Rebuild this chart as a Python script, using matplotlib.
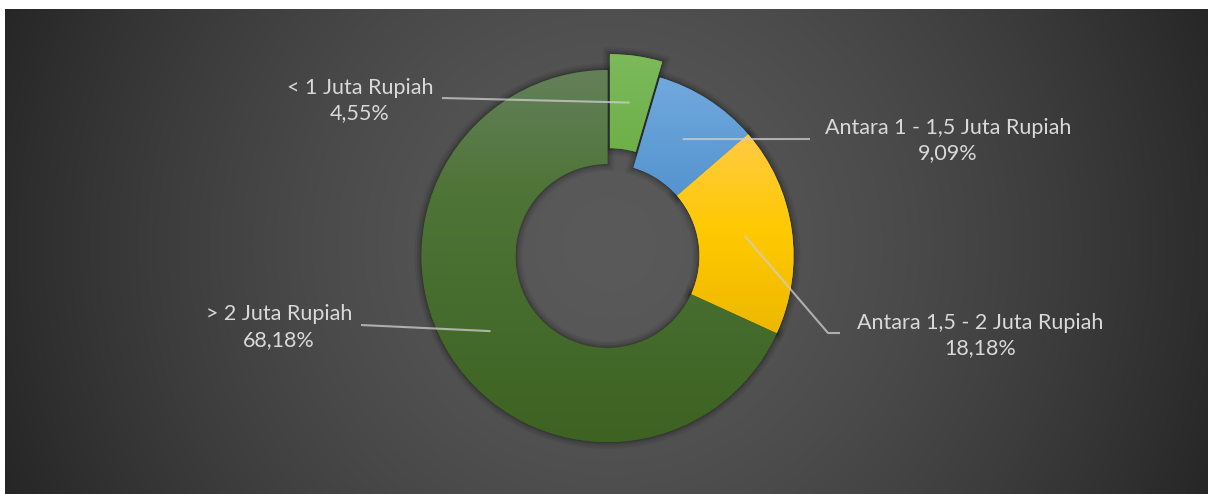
import numpy as np
import matplotlib.pyplot as plt
import matplotlib.patheffects as pe
from matplotlib.colors import to_rgb

# data
categories = ['< 1 Juta Rupiah', 'Antara 1 - 1,5 Juta Rupiah',
              'Antara 1,5 - 2 Juta Rupiah', '> 2 Juta Rupiah']
percent = [4.55, 9.09, 18.18, 68.18]

# gradient stops per slice (bottom -> top)
grad_colors = [
    ['#62a636', '#7cba5c'],
    ['#4789c8', '#70a9dd'],
    ['#eeb800', '#ffc900', '#ffcb45'],
    ['#3d6222', '#456c2c', '#4e7437', '#64805a'],
]
explode = [16, 0, 0, 0]

W, H = 1208, 494
cx, cy = 607.5, H - 256
R, ring = 186, 94

fig = plt.figure(figsize=(W / 100, H / 100), dpi=100, facecolor='white')
ax = fig.add_axes([0, 0, 1, 1])
ax.axis('off')

# background: dark radial gradient panel
xs = np.linspace(5, W, 600)
ys = np.linspace(-6, H - 10, 250)
X, Y = np.meshgrid(xs, ys)
d = np.hypot(X - 607, Y - (H - 245))
v = np.clip(90 - 52 * (d / 650) ** 1.5, 36, 92) / 255
bg = np.dstack([v, v, v])
ax.imshow(bg, extent=(5, W + 6, -6, H - 10), origin='lower', zorder=0, aspect='auto')

shadow = [pe.Stroke(linewidth=10, foreground='black', alpha=0.05),
          pe.Stroke(linewidth=7, foreground='black', alpha=0.07),
          pe.Stroke(linewidth=4, foreground='black', alpha=0.09),
          pe.Stroke(linewidth=2, foreground='black', alpha=0.12),
          pe.Normal()]

wedges, _ = ax.pie(percent, startangle=90, counterclock=False, radius=R,
                   center=(cx, cy), explode=explode,
                   colors=[c[0] for c in grad_colors],
                   wedgeprops=dict(width=ring, edgecolor='none'))

for w, cols in zip(wedges, grad_colors):
    w.set_zorder(1)
    w.set_path_effects(shadow)
    verts = w.get_path().vertices
    x0, x1 = verts[:, 0].min(), verts[:, 0].max()
    y0, y1 = verts[:, 1].min(), verts[:, 1].max()
    stops = np.array([to_rgb(c) for c in cols])
    t = np.linspace(0, 1, 256)
    pos = np.linspace(0, 1, len(stops))
    g = np.stack([np.interp(t, pos, stops[:, k]) for k in range(3)], axis=-1)
    g = np.repeat(g[:, None, :], 2, axis=1)
    im = ax.imshow(g, extent=(x0, x1, y0, y1), origin='lower', zorder=2,
                   aspect='auto', interpolation='bilinear')
    im.set_clip_path(w)

# labels and leader lines
text_pos = [(360, H - 100.5), (948, H - 140.5), (980, H - 335.5), (279, H - 327)]
line_start = [[(442, H - 98)], [(810, H - 139)], [(840, H - 333), (828, H - 333)],
              [(361, H - 325)]]
rmid = R - ring / 2
for w, lab, p, tp, ls in zip(wedges, categories, percent, text_pos, line_start):
    th = np.deg2rad((w.theta1 + w.theta2) / 2)
    wx, wy = w.center
    ex, ey = wx + rmid * np.cos(th), wy + rmid * np.sin(th)
    pts = ls + [(ex, ey)]
    ax.plot([q[0] for q in pts], [q[1] for q in pts], color='#cfcfcf',
            alpha=0.75, lw=1.5, zorder=3, solid_capstyle='butt')
    ax.text(tp[0], tp[1], f"{lab}\n{p:.2f}%".replace('.', ','), ha='center',
            va='center', color='#d9d9d9', fontsize=15.5, family='Lato',
            linespacing=1.35, zorder=4)

ax.set_xlim(0, W)
ax.set_ylim(0, H)
ax.set_aspect('auto')

fig.savefig('out.png', dpi=100, facecolor='white')
